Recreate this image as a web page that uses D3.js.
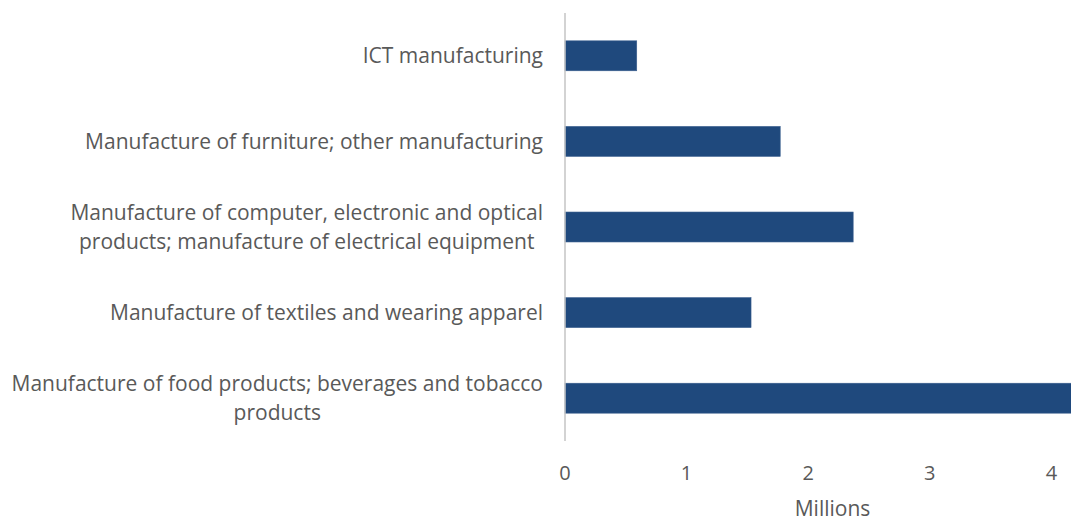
<!DOCTYPE html>
<html>
<head>
<meta charset="utf-8">
<script src="https://cdn.jsdelivr.net/npm/d3@7"></script>
<style>
  html, body { margin: 0; padding: 0; background: #ffffff; }
  svg { display: block; }
  text { font-family: "Open Sans", "Noto Sans", sans-serif; fill: #595959; }
</style>
</head>
<body>
<svg id="chart" width="1071" height="523"></svg>
<script>
// Industries, top to bottom, each label split into its display lines
const categories = [
  ["ICT manufacturing"],
  ["Manufacture of furniture; other manufacturing"],
  ["Manufacture of computer, electronic and optical", "products; manufacture of electrical equipment"],
  ["Manufacture of textiles and wearing apparel"],
  ["Manufacture of food products; beverages and tobacco", "products"]
];
// Value per industry, in millions
const values = [0.59, 1.77, 2.37, 1.53, 4.3];
const xTicks = [0, 1, 2, 3, 4];
const axisTitle = "Millions";

const svg = d3.select("#chart");
const plot = { left: 565, right: 1100, top: 13, bottom: 441 };

const x = d3.scaleLinear().domain([0, 4.4]).range([plot.left, plot.right]);
const y = d3.scaleBand()
  .domain(d3.range(categories.length))
  .range([plot.top, plot.bottom])
  .paddingInner(0.65)
  .paddingOuter(0.325);

// Bars
svg.append("g")
  .selectAll("rect")
  .data(values)
  .join("rect")
  .attr("x", x(0))
  .attr("y", (d, i) => y(i))
  .attr("width", d => x(d) - x(0))
  .attr("height", y.bandwidth())
  .attr("fill", "#1f497d")
  .attr("stroke", "#3b5f8f")
  .attr("stroke-width", 0.6);

// Vertical category axis line
svg.append("line")
  .attr("x1", x(0)).attr("x2", x(0))
  .attr("y1", plot.top).attr("y2", plot.bottom)
  .attr("stroke", "#c4c4c4")
  .attr("stroke-width", 1.5);

// Category labels: centred lines, block right-aligned next to the axis
const labelRight = 543;
const lineH = 29;
const fontSize = 21;
categories.forEach((lines, i) => {
  const cy = y(i) + y.bandwidth() / 2;
  const t = svg.append("text")
    .attr("font-size", fontSize)
    .attr("text-anchor", "middle");
  const spans = lines.map((ln, j) => t.append("tspan")
    .attr("x", 0)
    .attr("y", cy + (j - (lines.length - 1) / 2) * lineH)
    .attr("dy", "0.35em")
    .text(ln));
  const maxW = d3.max(spans, s => s.node().getComputedTextLength());
  spans.forEach(s => s.attr("x", labelRight - maxW / 2));
});

// Value axis tick labels
svg.append("g")
  .selectAll("text")
  .data(xTicks)
  .join("text")
  .attr("x", d => x(d))
  .attr("y", 473)
  .attr("dy", "0.35em")
  .attr("text-anchor", "middle")
  .attr("font-size", 20)
  .text(d => d);

// Axis title
svg.append("text")
  .attr("x", (plot.left + plot.right) / 2)
  .attr("y", 509)
  .attr("dy", "0.35em")
  .attr("text-anchor", "middle")
  .attr("font-size", 21)
  .text(axisTitle);
</script>
</body>
</html>
